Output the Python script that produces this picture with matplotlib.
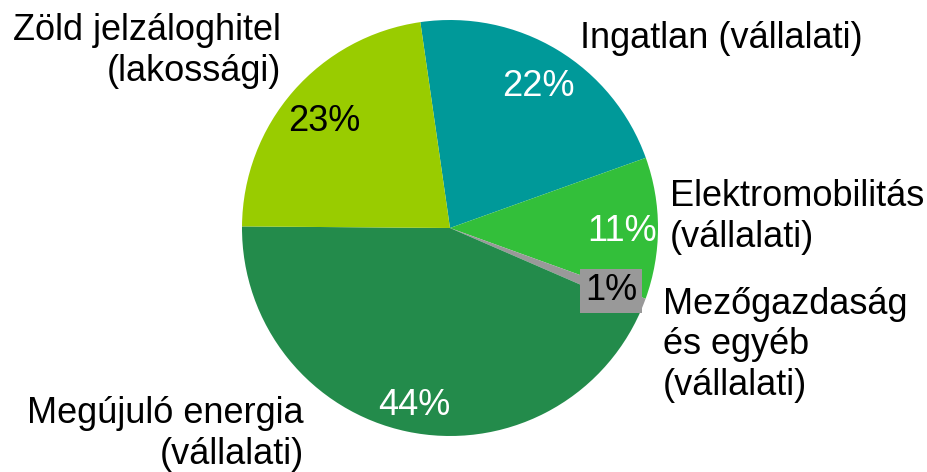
import matplotlib
matplotlib.use("Agg")
import matplotlib.pyplot as plt

plt.rcParams['font.family'] = ['Liberation Sans', 'DejaVu Sans']

categories = ["Ingatlan (vállalati)", "Elektromobilitás\n(vállalati)",
              "Mezőgazdaság\nés egyéb\n(vállalati)", "Megújuló energia\n(vállalati)",
              "Zöld jelzáloghitel\n(lakossági)"]
values = [21.8, 11.0, 1.0, 43.6, 22.6]
colors = ["#009999", "#33BF3A", "#999999", "#238B4B", "#99CC00"]
pct_colors = ["white", "white", "black", "white", "black"]

W, H = 928, 472
fig = plt.figure(figsize=(W / 100, H / 100), dpi=100)
ax = fig.add_axes([0, 0, 1, 1])

cx, cy, R = 450, H - 228, 208
wedges, texts, autotexts = ax.pie(values, colors=colors, startangle=98.2, counterclock=False,
                                  center=(cx, cy), radius=R, autopct='%.0f%%',
                                  pctdistance=0.82, frame=True,
                                  wedgeprops=dict(linewidth=0),
                                  textprops=dict(fontsize=26))
ax.set_xlim(0, W)
ax.set_ylim(0, H)
ax.set_aspect('equal')
ax.axis('off')

# fine offsets of percentage labels (pixels, down is negative)
pct_offsets = [(0, -5), (2, -3), (0, 0), (0, -11), (3, -6)]
for t, c, (dx, dy) in zip(autotexts, pct_colors, pct_offsets):
    t.set_color(c)
    x, y = t.get_position()
    t.set_position((x + dx, y + dy))

# small slice label in a grey box
autotexts[2].set_position((611, H - 291))
autotexts[2].set_bbox(dict(facecolor="#999999", edgecolor="none", pad=3.5))

# category labels (layout positions)
label_layout = [
    (580, 38, 'left'),
    (670, 217, 'left'),
    (663, 345, 'left'),
    (304, 434, 'right'),
    (281, 51, 'right'),
]
for name, (x, y, ha) in zip(categories, label_layout):
    ax.text(x, H - y, name, ha=ha, va='center', fontsize=26, multialignment=ha,
            linespacing=1.2, color='black')

fig.savefig("out.png", dpi=100)
